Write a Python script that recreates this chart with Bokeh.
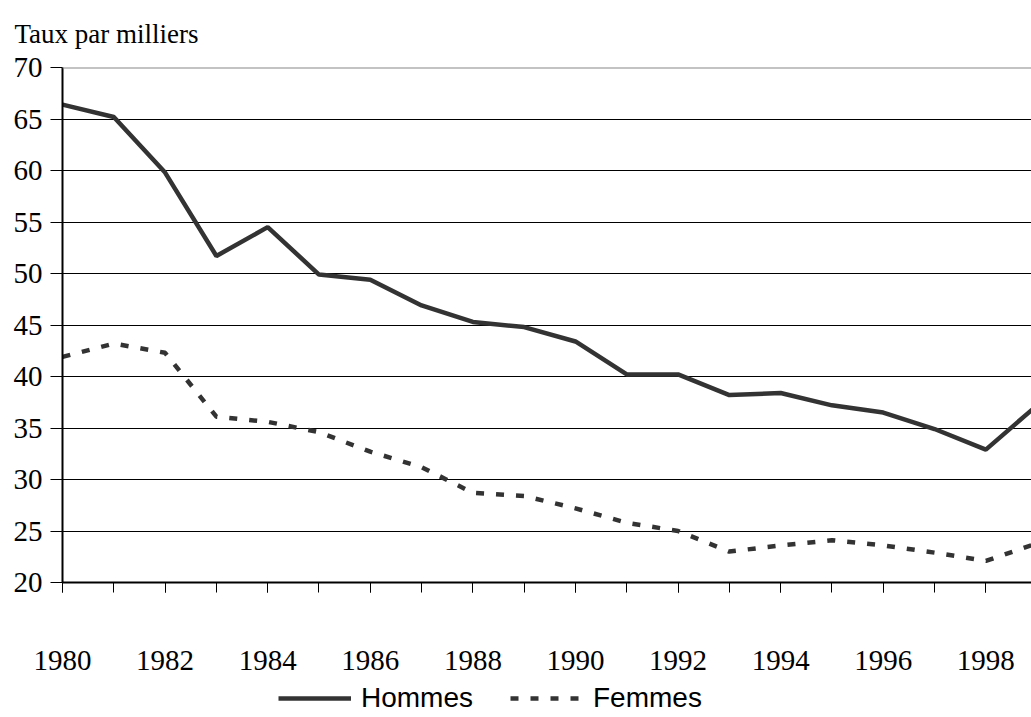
from bokeh.plotting import figure
from bokeh.layouts import column
from bokeh.models import Range1d, SingleIntervalTicker, Span, Legend, LegendItem
from bokeh.embed import file_html
from bokeh.resources import INLINE

years = list(range(1980, 2000))
hommes = [66.4, 65.2, 59.8, 51.7, 54.5, 49.9, 49.4, 46.9, 45.3, 44.8,
          43.4, 40.2, 40.2, 38.2, 38.4, 37.2, 36.5, 34.9, 32.9, 37.2]
femmes = [41.9, 43.2, 42.3, 36.1, 35.6, 34.6, 32.7, 31.2, 28.7, 28.4,
          27.2, 25.8, 25.0, 23.0, 23.6, 24.1, 23.6, 22.9, 22.1, 23.8]
y_ticks = [20, 25, 30, 35, 40, 45, 50, 55, 60, 65, 70]
title_text = "Taux par milliers"
labels = ["Hommes", "Femmes"]

LINE = "#333333"
SERIF = "Liberation Serif"
SANS = "Liberation Sans"
DASH = "8 12"

p = figure(width=1031, height=680, output_backend="svg", toolbar_location=None,
           x_range=Range1d(1980, 1998.89), y_range=Range1d(20, 70),
           min_border_left=62, min_border_right=0, min_border_top=67,
           min_border_bottom=98)
p.outline_line_color = None
p.background_fill_color = "white"
p.border_fill_color = "white"

p.title.text = title_text
p.title.text_font = SERIF
p.title.text_font_style = "normal"
p.title.text_font_size = "27px"
p.title.text_color = "black"
p.title.offset = -48
p.title.standoff = 34
p.title.vertical_align = "top"

# x axis
p.xaxis.ticker = SingleIntervalTicker(interval=2, num_minor_ticks=2)
p.xaxis.axis_line_color = "black"
p.xaxis.axis_line_width = 2
p.xaxis.major_tick_in = 0
p.xaxis.major_tick_out = 10
p.xaxis.minor_tick_in = 0
p.xaxis.minor_tick_out = 10
p.xaxis.major_tick_line_color = "black"
p.xaxis.minor_tick_line_color = "black"
p.xaxis.major_label_text_font = SERIF
p.xaxis.major_label_text_font_size = "29px"
p.xaxis.major_label_text_color = "black"
p.xaxis.major_label_standoff = 58

# y axis
p.yaxis.ticker = y_ticks
p.yaxis.axis_line_color = "black"
p.yaxis.axis_line_width = 2
p.yaxis.major_tick_in = 0
p.yaxis.major_tick_out = 12
p.yaxis.minor_tick_line_color = None
p.yaxis.major_tick_line_color = "black"
p.yaxis.major_label_text_font = SERIF
p.yaxis.major_label_text_font_size = "29px"
p.yaxis.major_label_text_color = "black"
p.yaxis.major_label_standoff = 8

p.xgrid.grid_line_color = None
p.ygrid.ticker = y_ticks
p.ygrid.grid_line_color = "black"
p.ygrid.grid_line_width = 1

p.add_layout(Span(location=70, dimension="width", line_color="#888888", line_width=2))

p.line(years, hommes, line_color=LINE, line_width=4.5)
p.line(years, femmes, line_color=LINE, line_width=4.5, line_dash=DASH)

# legend strip below the chart (glyphs carry no visible data)
nan = float("nan")
lg = figure(width=1031, height=37, output_backend="svg", toolbar_location=None,
            x_axis_type=None, y_axis_type=None, min_border=0,
            x_range=Range1d(0, 1), y_range=Range1d(0, 1))
lg.outline_line_color = None
lg.grid.visible = False
l1 = lg.line([nan], [nan], line_color=LINE, line_width=4.5)
l2 = lg.line([nan], [nan], line_color=LINE, line_width=4.5, line_dash=DASH)
legend = Legend(items=[LegendItem(label=labels[0], renderers=[l1]),
                       LegendItem(label=labels[1], renderers=[l2])],
                location=(216, 3), orientation="horizontal",
                glyph_width=73, glyph_height=24, label_standoff=10, spacing=37,
                padding=0, margin=0, border_line_color=None,
                background_fill_alpha=0,
                label_text_font=SANS, label_text_font_size="28px",
                label_text_color="black")
lg.add_layout(legend, "center")

open("out.html", "w").write(file_html(column(p, lg, spacing=0), INLINE))
